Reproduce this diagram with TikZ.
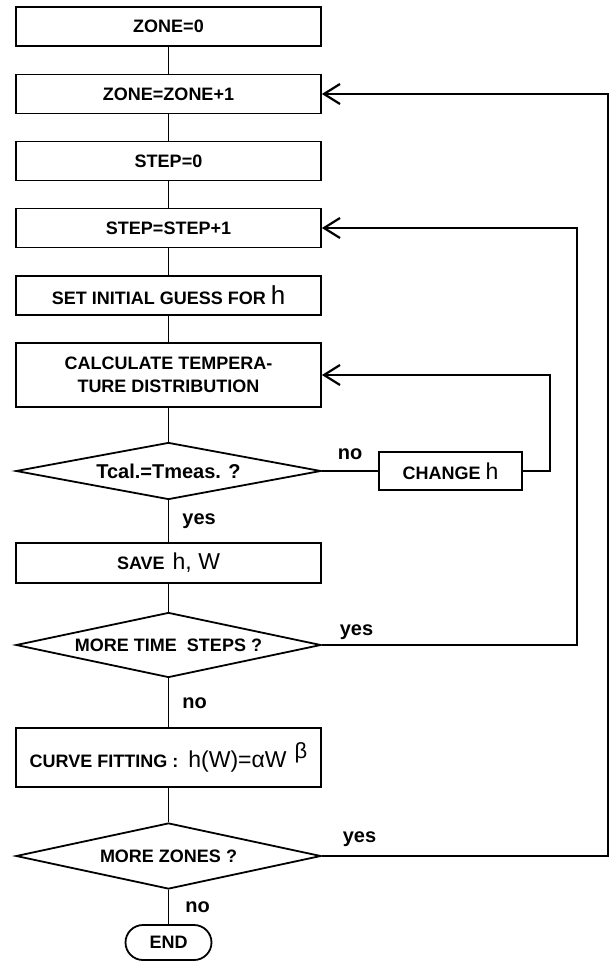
\documentclass[tikz,border=0pt]{standalone}
\usepackage{fontspec}
\setmainfont{Liberation Sans}
\usetikzlibrary{shapes.geometric,arrows.meta}
\newcommand{\hv}[2][11]{{\mdseries\fontsize{#1}{13}\selectfont #2}}

\begin{document}
\begin{tikzpicture}[x=0.5pt,y=-0.5pt,
    link/.style={line width=0.9pt},
    flow/.style={link,-{Straight Barb[length=8pt,width=10pt,line width=1.1pt]}},
    box/.style={draw,link,minimum width=152.5pt,minimum height=19.5pt,inner sep=1pt,
      align=center,font=\bfseries\fontsize{9}{11.5}\selectfont},
    decision/.style={draw,link,diamond,aspect=5,inner sep=0pt,minimum width=152.5pt,
      font=\bfseries\fontsize{9}{11}\selectfont},
    terminal/.style={draw,link,rounded corners=8.75pt,minimum width=43pt,minimum height=17.5pt,
      font=\bfseries\fontsize{9}{11}\selectfont},
    lbl/.style={inner sep=1pt,font=\bfseries\fontsize{10}{12}\selectfont}]
    \useasboundingbox (0,0) rectangle (611,962);

    %main column
    \node [box] (zone0) at (168.5,26.5) {ZONE=0};
    \node [box] (zone1) at (168.5,94) {ZONE=ZONE+1};
    \node [box] (step0) at (168.5,161) {STEP=0};
    \node [box] (step1) at (168.5,228) {STEP=STEP+1};
    \node [box] (guess) at (168.5,295.5) {SET INITIAL GUESS FOR \hv[13]{h}};
    \node [box,minimum height=32pt] (calc) at (168.5,375) {CALCULATE TEMPERA-\\TURE DISTRIBUTION};
    \node [decision,minimum height=28.5pt,font=\bfseries\fontsize{10}{12}\selectfont] (test) at (168.5,471) {Tcal.=Tmeas. ?};
    \node [box,minimum width=71.5pt,minimum height=19pt] (change) at (450.5,471) {CHANGE \hv[11.5]{h}};
    \node [box,minimum height=20pt] (save) at (168.5,563) {SAVE\hspace{4pt}\hv[11.5]{h, W}};
    \node [decision,minimum height=32.5pt] (moret) at (168.5,645) {MORE TIME\ \ STEPS ?};
    \node [box,minimum height=29.5pt] (curve) at (168.5,757.5)
      {CURVE FITTING :\hspace{5pt}\hv[11.5]{h(W)=αW\hspace{4pt}\raisebox{4.5pt}{\fontsize{11}{12}\selectfont β}}};
    \node [decision,minimum height=33pt] (morez) at (168.5,856) {MORE ZONES ?};
    \node [terminal] (end) at (168.5,942.5) {END};

    \foreach \a/\b in {zone0/zone1,zone1/step0,step0/step1,step1/guess,guess/calc,calc/test,save/moret,curve/morez}
      \draw [link] (\a) -- (\b);
    \draw [link] (test) -- node[lbl,right,xshift=5.5pt]{yes} (save);
    \draw [link] (moret) -- node[lbl,right,xshift=5.5pt]{no} (curve);
    \draw [link] (morez) -- node[lbl,right,xshift=7pt]{no} (end);
    \draw [link] (test.east) -- node[lbl,above,yshift=4pt]{no} (change.west);

    %loops back
    \coordinate (rtest) at (550,0);
    \coordinate (rstep) at (577,0);
    \coordinate (rzone) at (608,0);
    \draw [flow] (change.east) -- (change.east -| rtest) |- (calc.east);
    \draw [flow] (moret.east) -- node[lbl,pos=0,anchor=south west,xshift=7.5pt,yshift=1pt]{yes}
      (moret.east -| rstep) |- (step1.east);
    \draw [flow] (morez.east) -- node[lbl,pos=0,anchor=south west,xshift=9pt,yshift=3pt]{yes}
      (morez.east -| rzone) |- (zone1.east);
\end{tikzpicture}
\end{document}
